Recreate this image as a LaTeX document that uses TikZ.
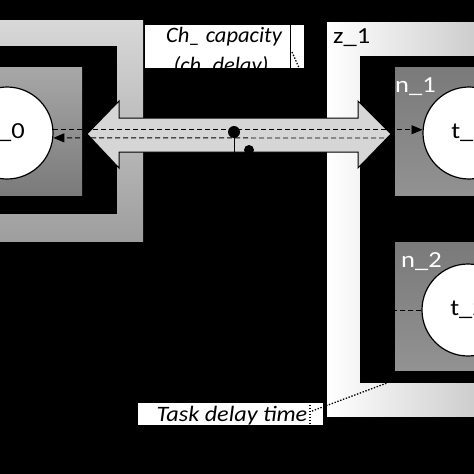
\documentclass[tikz,border=0pt]{standalone}
\usepackage{fontspec}
\setmainfont{Carlito}
\newfontfamily\labelfont[FakeStretch=1.15]{Carlito}
\newfontfamily\notefont[FakeStretch=1.1]{Carlito}
\usepackage{xcolor}
\usetikzlibrary{arrows.meta}
\definecolor{zonelight}{RGB}{216,216,216}
\definecolor{zonedark}{RGB}{158,158,158}
\definecolor{zoneright}{RGB}{200,200,200}
\definecolor{hosttop}{RGB}{122,122,122}
\definecolor{hostbot}{RGB}{146,146,146}
\definecolor{chanfill}{RGB}{214,214,214}

\begin{document}
\begin{tikzpicture}[x=1pt, y=-1pt, node distance = 175pt]
	\tikzstyle{host} = [rectangle, minimum width=128pt, minimum height=128pt, inner sep=0pt, top color=hosttop, bottom color=hostbot]
\tikzstyle{task} = [circle, draw = black, line width=1.2pt, fill=white, minimum size=92pt, inner sep=0pt, font=\labelfont\fontsize{23}{28}\selectfont]
\tikzstyle{hlabel} = [inner sep=0pt, text=white, font=\labelfont\fontsize{23}{28}\selectfont]
\tikzstyle{note} = [rectangle, fill=white, inner sep=0pt]
\tikzstyle{notetext} = [inner sep=0pt, font=\notefont\fontsize{22}{27}\selectfont\itshape]
\tikzstyle{dot} = [circle, fill=black, inner sep=0pt]
\tikzstyle{chan} = [fill=chanfill, draw=black, line width=1pt]
\tikzstyle{flow} = [line width=0.9pt, dash pattern=on 5pt off 3pt]
\tikzstyle{tag} = [line width=1.3pt, dash pattern=on 1.4pt off 1.6pt]
\useasboundingbox (0,0) rectangle (474,474);
\fill[black] (0,0) rectangle (474,474);
\clip (0,0) rectangle (474,474);
% zones
\shade[top color=zonelight, bottom color=zonedark] (-30,20) rectangle (143,241);
\fill[black] (-30,46) rectangle (117,214);
\shade[left color=white, right color=zoneright] (327,22) rectangle (490,416);
\fill[black] (360,56) rectangle (490,383);
\node(z1)[inner sep=0pt, anchor=base west, font=\labelfont\fontsize{23}{28}\selectfont] at (333,43) {z\_1};
% hosts
\node(n0)[host, top color=hostbot!80!white, bottom color=hosttop] at (18,131) {};
\node(n1)[host] at (459,131) {};
\node(n2)[host, below of = n1] {};
\node(n1lab)[hlabel, anchor=base west] at (395,92) {n\_1};
\node(n2lab)[hlabel, anchor=base west] at (401,267) {n\_2};
\node(t0)[task] at (7,133) {t\_0};
\node(t1)[task] at (469,133) {t\_1};
\node(t2)[task] at (468,310) {t\_2};
% channel
\draw[chan] (87,134) -- (119,101) -- (119,118) -- (358,118) -- (358,101) -- (391,134) -- (358,168) -- (358,152) -- (119,152) -- (119,168) -- cycle;
\coordinate(back) at (384,138);
\draw[flow, -{Triangle[length=11pt,width=9pt]}] (t0.4) -- (t1.176);
\draw[flow, -{Triangle[length=11pt,width=9pt]}] (back) -- (t0.-6);
\draw[flow] (t2.west) -- (t2.west -| n2.west);
\node(tap)[dot, minimum size=12pt] at (234,132) {};
\node(tap2)[dot, minimum size=10pt] at (249,150) {};
\coordinate(shaftlow) at (234,152);
\draw[line width=1pt] (tap) -- (shaftlow);
% notes
\node(chbox)[note, minimum width=159pt, minimum height=43pt] at (224.5,46.5) {};
\node(chtext1)[notetext, anchor=base, xscale=0.93] at (224,42) {Ch\_ capacity};
\node(chtext2)[notetext, anchor=base, xscale=0.93] at (221,72) {(ch\_delay)};
\draw[line width=1pt] (chbox.north -| 290,0) -- (chbox.south -| 290,0);
\coordinate(chtag) at (292,52);
\coordinate(chend) at (300,70);
\draw[tag] (chtag) -- (chend);
\node(taskbox)[note, minimum width=185pt, minimum height=22pt] at (230.5,414) {};
\node(tasktext)[notetext, anchor=base] at (232,421) {Task delay time};
\coordinate(tasktop) at (310,402);
\coordinate(taskbot) at (310,430);
\coordinate(taskfoot) at (312,411);
\coordinate(zonecorner) at (387,383);
\draw[tag] (tasktop) -- (taskbot);
\draw[tag] (taskfoot) -- (zonecorner);
  \end{tikzpicture}
\end{document}
